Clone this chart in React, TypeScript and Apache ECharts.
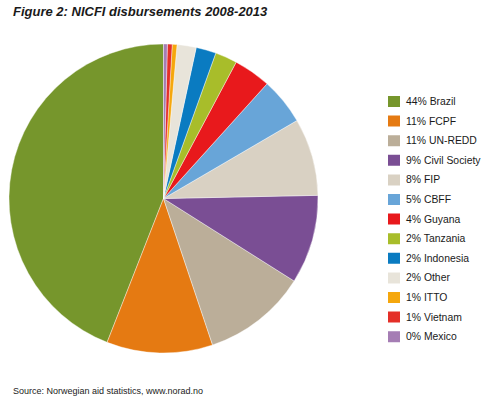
import React, { useEffect, useRef } from "react";
import * as echarts from "echarts";

const categories = [
  "Brazil", "FCPF", "UN-REDD", "Civil Society", "FIP", "CBFF", "Guyana",
  "Tanzania", "Indonesia", "Other", "ITTO", "Vietnam", "Mexico",
];
const values = [44.1, 11.1, 10.9, 9.3, 8.1, 4.9, 3.9, 2.3, 2.1, 2.0, 0.5, 0.5, 0.4];
const percentLabels = ["44", "11", "11", "9", "8", "5", "4", "2", "2", "2", "1", "1", "0"];
const colors = [
  "#76962C", "#E57A12", "#BBAE99", "#7A4E94", "#D9D1C3", "#68A5D8", "#E8191C",
  "#A8BD2A", "#0A7BC1", "#E8E4DA", "#F5A70D", "#E42F28", "#A57DB4",
];

const FONT = "'Liberation Sans', Arial, sans-serif";

export default function App() {
  const ref = useRef<HTMLDivElement>(null);
  useEffect(() => {
    if (!ref.current) return;
    const chart = echarts.init(ref.current, null, { renderer: "svg" });
    chart.setOption({
      animation: false,
      backgroundColor: "#ffffff",
      color: colors,
      title: [
        {
          text: "Figure 2: NICFI disbursements 2008-2013",
          left: 8,
          top: 0,
          textStyle: { fontFamily: FONT, fontSize: 13, fontWeight: "bold", fontStyle: "italic", color: "#1a1a1a" },
        },
        {
          text: "Source: Norwegian aid statistics, www.norad.no",
          left: 8,
          top: 381,
          textStyle: { fontFamily: FONT, fontSize: 9, fontWeight: "normal", color: "#222" },
        },
      ],
      legend: {
        orient: "vertical",
        left: 386,
        top: 94,
        padding: 0,
        itemWidth: 14,
        itemHeight: 13,
        itemGap: 4.6,
        icon: "rect",
        selectedMode: false,
        textStyle: { fontFamily: FONT, fontSize: 10.4, color: "#1a1a1a", lineHeight: 13 },
        formatter: (name: string) => {
          const i = categories.indexOf(name);
          return `${percentLabels[i]}% ${name}`;
        },
        data: categories,
      },
      series: [
        {
          type: "pie",
          center: [163.5, 198.5],
          radius: 154.5,
          startAngle: 90,
          clockwise: false,
          label: { show: false },
          labelLine: { show: false },
          emphasis: { disabled: true },
          itemStyle: { borderColor: "#ffffff", borderWidth: 0.4 },
          data: categories.map((c, i) => ({ name: c, value: values[i] })),
        },
      ],
    });
    return () => chart.dispose();
  }, []);
  return (
    <div
      ref={ref}
      style={{ position: "fixed", left: 0, top: 0, width: 487, height: 398 }}
    />
  );
}
